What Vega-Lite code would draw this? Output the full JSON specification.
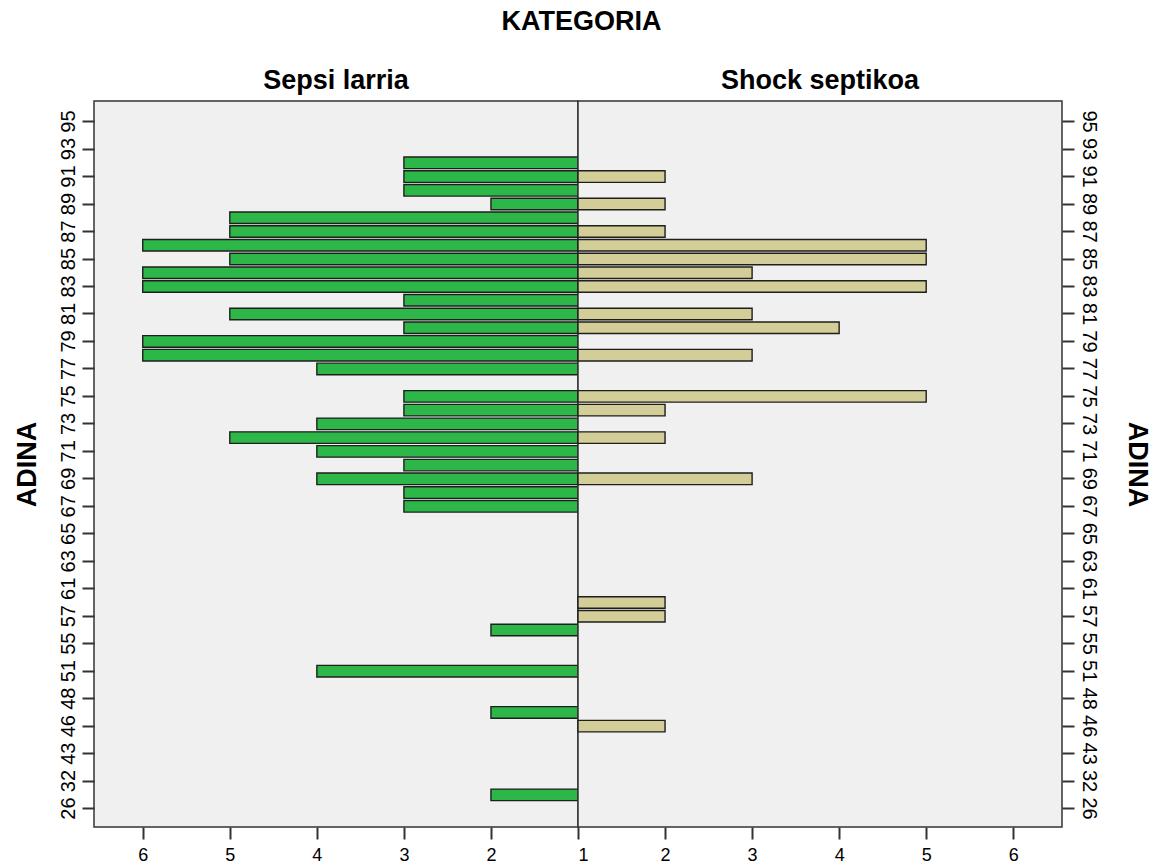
{
  "$schema": "https://vega.github.io/schema/vega-lite/v6.json",
  "background": "white",
  "bounds": "flush",
  "padding": {"left": 12, "top": 8, "right": 5, "bottom": 5},
  "title": {"text": "KATEGORIA", "font": "Liberation Sans", "fontSize": 27, "fontWeight": "bold", "color": "#000", "anchor": "middle", "offset": 30},
  "data": {"values": [
    {"age": 92, "cat": "Sepsi larria", "n": 3},
    {"age": 91, "cat": "Sepsi larria", "n": 3},
    {"age": 90, "cat": "Sepsi larria", "n": 3},
    {"age": 89, "cat": "Sepsi larria", "n": 2},
    {"age": 88, "cat": "Sepsi larria", "n": 5},
    {"age": 87, "cat": "Sepsi larria", "n": 5},
    {"age": 86, "cat": "Sepsi larria", "n": 6},
    {"age": 85, "cat": "Sepsi larria", "n": 5},
    {"age": 84, "cat": "Sepsi larria", "n": 6},
    {"age": 83, "cat": "Sepsi larria", "n": 6},
    {"age": 82, "cat": "Sepsi larria", "n": 3},
    {"age": 81, "cat": "Sepsi larria", "n": 5},
    {"age": 80, "cat": "Sepsi larria", "n": 3},
    {"age": 79, "cat": "Sepsi larria", "n": 6},
    {"age": 78, "cat": "Sepsi larria", "n": 6},
    {"age": 77, "cat": "Sepsi larria", "n": 4},
    {"age": 75, "cat": "Sepsi larria", "n": 3},
    {"age": 74, "cat": "Sepsi larria", "n": 3},
    {"age": 73, "cat": "Sepsi larria", "n": 4},
    {"age": 72, "cat": "Sepsi larria", "n": 5},
    {"age": 71, "cat": "Sepsi larria", "n": 4},
    {"age": 70, "cat": "Sepsi larria", "n": 3},
    {"age": 69, "cat": "Sepsi larria", "n": 4},
    {"age": 68, "cat": "Sepsi larria", "n": 3},
    {"age": 67, "cat": "Sepsi larria", "n": 3},
    {"age": 56, "cat": "Sepsi larria", "n": 2},
    {"age": 51, "cat": "Sepsi larria", "n": 4},
    {"age": 47, "cat": "Sepsi larria", "n": 2},
    {"age": 29, "cat": "Sepsi larria", "n": 2},
    {"age": 91, "cat": "Shock septikoa", "n": 2},
    {"age": 89, "cat": "Shock septikoa", "n": 2},
    {"age": 87, "cat": "Shock septikoa", "n": 2},
    {"age": 86, "cat": "Shock septikoa", "n": 5},
    {"age": 85, "cat": "Shock septikoa", "n": 5},
    {"age": 84, "cat": "Shock septikoa", "n": 3},
    {"age": 83, "cat": "Shock septikoa", "n": 5},
    {"age": 81, "cat": "Shock septikoa", "n": 3},
    {"age": 80, "cat": "Shock septikoa", "n": 4},
    {"age": 78, "cat": "Shock septikoa", "n": 3},
    {"age": 75, "cat": "Shock septikoa", "n": 5},
    {"age": 74, "cat": "Shock septikoa", "n": 2},
    {"age": 72, "cat": "Shock septikoa", "n": 2},
    {"age": 69, "cat": "Shock septikoa", "n": 3},
    {"age": 59, "cat": "Shock septikoa", "n": 2},
    {"age": 57, "cat": "Shock septikoa", "n": 2},
    {"age": 46, "cat": "Shock septikoa", "n": 2}
  ]},
  "config": {
    "view": {"fill": "#f0f0f0", "stroke": "#333333", "strokeWidth": 1.5},
    "axis": {"labelFont": "Liberation Sans", "titleFont": "Liberation Sans", "labelColor": "#000", "titleColor": "#000", "domain": false, "grid": false, "tickColor": "#333333", "tickWidth": 2}
  },
  "spacing": 0,
  "hconcat": [
    {
      "width": 484,
      "height": 726,
      "title": {"text": "Sepsi larria", "font": "Liberation Sans", "fontSize": 27, "fontWeight": "bold", "color": "#000", "anchor": "middle", "offset": 6},
      "transform": [{"filter": "datum.cat === 'Sepsi larria'"}],
      "mark": {"type": "bar", "fill": "#2db749", "stroke": "#1e1e1e", "strokeWidth": 1.4},
      "encoding": {
        "y": {"field": "age", "type": "ordinal",
          "scale": {"domain": [95,94,93,92,91,90,89,88,87,86,85,84,83,82,81,80,79,78,77,76,75,74,73,72,71,70,69,68,67,66,65,64,63,62,61,59,57,56,55,53,51,50,48,47,46,45,43,38,32,29,26], "paddingInner": 0.16, "paddingOuter": 2.87, "align": 0.54},
          "axis": {"orient": "left", "values": [95,93,91,89,87,85,83,81,79,77,75,73,71,69,67,65,63,61,57,55,51,48,46,43,32,26], "labelAngle": 270, "labelAlign": "center", "labelBaseline": "bottom", "labelFontSize": 20, "labelPadding": 4, "tickSize": 12, "title": "ADINA", "titleFontSize": 27, "titleFontWeight": "bold", "titlePadding": 17}},
        "x": {"field": "n", "type": "quantitative",
          "scale": {"domain": [1, 6.56], "reverse": true, "nice": false, "zero": false},
          "axis": {"values": [2,3,4,5,6], "labelFontSize": 18, "tickSize": 12, "labelPadding": 7, "title": null}},
        "x2": {"datum": 1}
      }
    },
    {
      "width": 484,
      "height": 726,
      "title": {"text": "Shock septikoa", "font": "Liberation Sans", "fontSize": 27, "fontWeight": "bold", "color": "#000", "anchor": "middle", "offset": 6},
      "transform": [{"filter": "datum.cat === 'Shock septikoa'"}],
      "mark": {"type": "bar", "fill": "#d3ce97", "stroke": "#1e1e1e", "strokeWidth": 1.4},
      "encoding": {
        "y": {"field": "age", "type": "ordinal",
          "scale": {"domain": [95,94,93,92,91,90,89,88,87,86,85,84,83,82,81,80,79,78,77,76,75,74,73,72,71,70,69,68,67,66,65,64,63,62,61,59,57,56,55,53,51,50,48,47,46,45,43,38,32,29,26], "paddingInner": 0.16, "paddingOuter": 2.87, "align": 0.54},
          "axis": {"orient": "right", "values": [95,93,91,89,87,85,83,81,79,77,75,73,71,69,67,65,63,61,57,55,51,48,46,43,32,26], "labelAngle": 90, "labelAlign": "center", "labelBaseline": "bottom", "labelFontSize": 20, "labelPadding": 4, "tickSize": 12, "title": "ADINA", "titleAngle": 90, "titleFontSize": 27, "titleFontWeight": "bold", "titlePadding": 24}},
        "x": {"field": "n", "type": "quantitative",
          "scale": {"domain": [1, 6.56], "nice": false, "zero": false},
          "axis": {"values": [1,2,3,4,5,6], "labelFontSize": 18, "tickSize": 12, "labelPadding": 7, "title": null}},
        "x2": {"datum": 1}
      }
    }
  ]
}
